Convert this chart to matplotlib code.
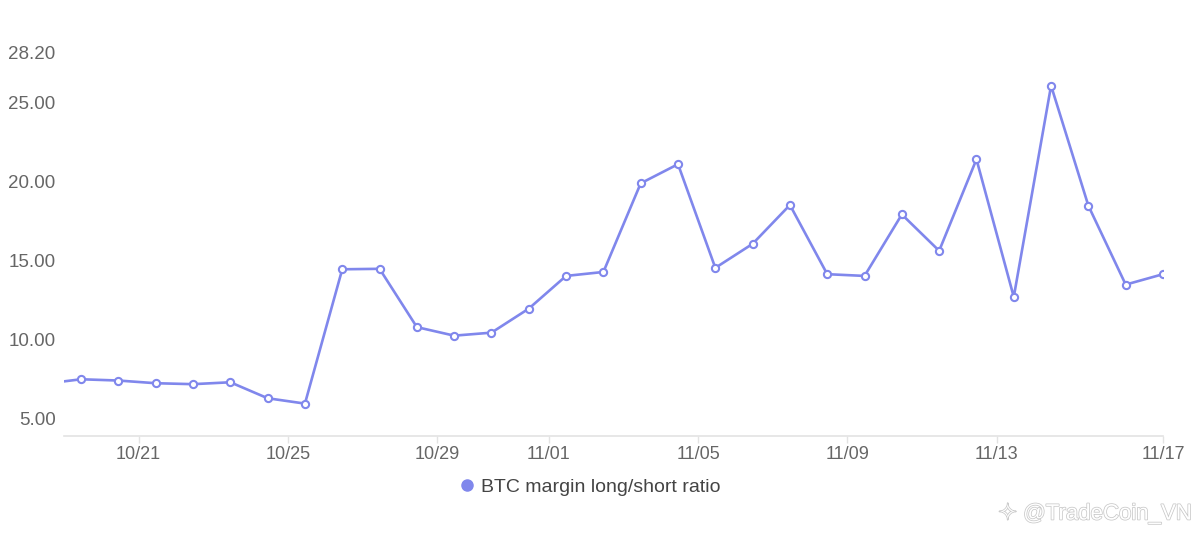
import matplotlib
matplotlib.use("Agg")
import matplotlib.pyplot as plt
import matplotlib.patheffects as pe
from matplotlib.lines import Line2D
import pandas as pd

# daily samples (taken around 11:00); first one falls left of the visible window
DAYS = [
    "2023-10-18", "2023-10-19", "2023-10-20", "2023-10-21", "2023-10-22",
    "2023-10-23", "2023-10-24", "2023-10-25", "2023-10-26", "2023-10-27",
    "2023-10-28", "2023-10-29", "2023-10-30", "2023-10-31", "2023-11-01",
    "2023-11-02", "2023-11-03", "2023-11-04", "2023-11-05", "2023-11-06",
    "2023-11-07", "2023-11-08", "2023-11-09", "2023-11-10", "2023-11-11",
    "2023-11-12", "2023-11-13", "2023-11-14", "2023-11-15", "2023-11-16",
    "2023-11-17",
]
RATIO = [
    7.20, 7.49, 7.41, 7.24, 7.18, 7.30, 6.29, 5.95, 14.45, 14.48,
    10.79, 10.25, 10.44, 11.96, 14.03, 14.28, 19.89, 21.10, 14.54, 16.06,
    18.52, 14.14, 14.03, 17.92, 15.62, 21.41, 12.70, 26.07, 18.47, 13.48,
    14.14,
]
SERIES_NAME = "BTC margin long/short ratio"
X_TICK_DAYS = ["2023-10-21", "2023-10-25", "2023-10-29", "2023-11-01",
               "2023-11-05", "2023-11-09", "2023-11-13"]
X_TICK_LABELS = ["10/21", "10/25", "10/29", "11/01", "11/05", "11/09", "11/13", "11/17"]
Y_TICKS = [5, 10, 15, 20, 25, 28.2]

LINE_COLOR = "#8087ec"
TEXT_COLOR = "#666666"
AXIS_COLOR = "#e3e3e3"

plt.rcParams["font.family"] = ["Liberation Sans", "DejaVu Sans"]

times = pd.to_datetime(DAYS) + pd.Timedelta(hours=11)

fig = plt.figure(figsize=(12, 5.35), dpi=100)
ax = fig.add_axes([64 / 1200, 1 - 436 / 535, (1163 - 64) / 1200, (436 - 52) / 535])

ax.plot(times, RATIO, color=LINE_COLOR, lw=1.9, marker="o", ms=5.2,
        mfc="white", mec=LINE_COLOR, mew=1.5, zorder=3)

x_min = pd.Timestamp("2023-10-19")
x_max = times[-1]
ax.set_xlim(x_min, x_max)
ax.set_ylim(3.9, 28.2)

tick_pos = list(pd.to_datetime(X_TICK_DAYS)) + [x_max]
ax.set_xticks(tick_pos)
ax.set_xticklabels(X_TICK_LABELS)
ax.set_yticks(Y_TICKS)
ax.set_yticklabels([f"{v:.2f}" for v in Y_TICKS])

for side in ["top", "right", "left"]:
    ax.spines[side].set_visible(False)
ax.spines["bottom"].set_color(AXIS_COLOR)
ax.spines["bottom"].set_linewidth(1.2)
ax.tick_params(axis="x", colors=AXIS_COLOR, length=5, width=1, pad=2,
               labelcolor=TEXT_COLOR, labelsize=13)
ax.tick_params(axis="y", length=0, pad=6, labelcolor=TEXT_COLOR, labelsize=13.5)
ax.grid(False)

# legend below the axis
handle = Line2D([], [], color=LINE_COLOR, marker="o", ls="none", ms=8)
fig.legend(handles=[handle], labels=[SERIES_NAME], loc="center",
           bbox_to_anchor=(590 / 1200, 1 - 487 / 535), frameon=False,
           fontsize=14, handlelength=0.8, handletextpad=0.35, labelcolor="#444444")

# watermark
fig.text(1192 / 1200, 1 - 514 / 535, "\u2727 @TradeCoin_VN", ha="right", va="center",
         fontsize=16, color="white", family=["Liberation Sans", "DejaVu Sans"],
         path_effects=[pe.withStroke(linewidth=1.1, foreground="#c8c8c8")])

fig.savefig("out.png", dpi=100)
